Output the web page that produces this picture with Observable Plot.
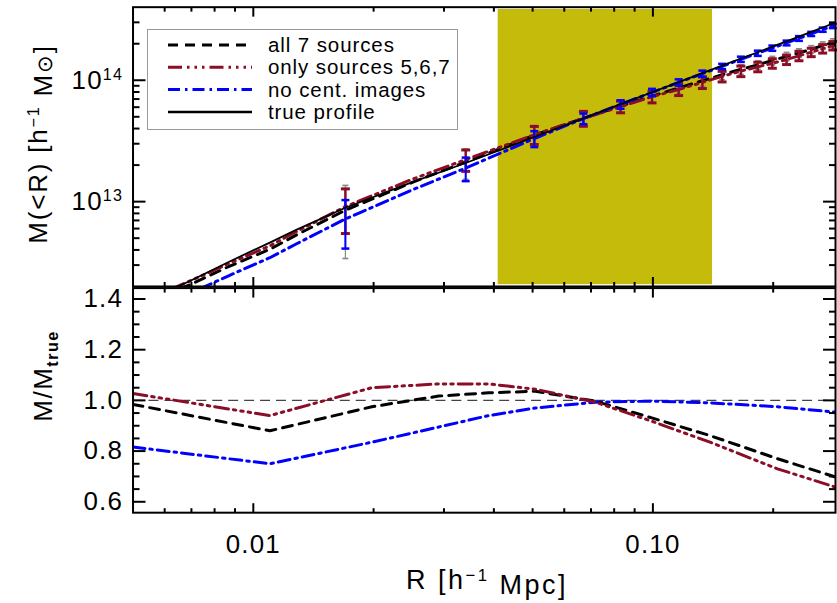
<!DOCTYPE html>
<html><head><meta charset="utf-8">
<script src="https://cdn.jsdelivr.net/npm/d3@7"></script>
<script src="https://cdn.jsdelivr.net/npm/@observablehq/plot@0.6"></script>
<style>
html,body{margin:0;padding:0;background:#fff;overflow:hidden}
#wrap{position:relative;width:837px;height:603px;overflow:hidden;background:#fff}
#top,#bot{position:absolute;left:0}
#top{top:0}
#bot{top:287px}
#ov{position:absolute;left:0;top:0}
</style></head><body>
<div id="wrap"><div id="top"></div><div id="bot"></div>
<svg id="ov" width="837" height="603"></svg></div>
<script>
// ---------- data ----------
const profileR = [0.005, 0.0069, 0.0087, 0.011, 0.0128, 0.017, 0.025, 0.034, 0.0505, 0.067, 0.083, 0.0995, 0.116, 0.133, 0.149, 0.166, 0.183, 0.199, 0.216, 0.232, 0.249, 0.266, 0.282, 0.30];
const massTrue   = [1.35e12, 2.2e12, 3.2e12, 4.6e12, 5.85e12, 8.9e12, 1.45e13, 2.08e13, 3.41e13, 4.86e13, 6.35e13, 7.96e13, 9.65e13, 1.144e14, 1.32e14, 1.51e14, 1.70e14, 1.89e14, 2.09e14, 2.29e14, 2.50e14, 2.72e14, 2.93e14, 3.15e14];
const massAll7   = [1.32e12, 2.05e12, 2.93e12, 4.05e12, 5.3e12, 8.5e12, 1.44e13, 2.12e13, 3.53e13, 4.86e13, 6.13e13, 7.4e13, 8.64e13, 9.9e13, 1.11e14, 1.23e14, 1.34e14, 1.455e14, 1.57e14, 1.68e14, 1.80e14, 1.93e14, 2.05e14, 2.17e14];
const massSrc567 = [1.39e12, 2.2e12, 3.1e12, 4.32e12, 5.65e12, 9.1e12, 1.53e13, 2.22e13, 3.56e13, 4.86e13, 6.06e13, 7.31e13, 8.4e13, 9.6e13, 1.076e14, 1.19e14, 1.29e14, 1.38e14, 1.48e14, 1.59e14, 1.70e14, 1.82e14, 1.93e14, 2.05e14];
const massNoCent = [1.1e12, 1.74e12, 2.46e12, 3.45e12, 4.48e12, 7.2e12, 1.25e13, 1.89e13, 3.31e13, 4.83e13, 6.33e13, 7.94e13, 9.6e13, 1.133e14, 1.30e14, 1.49e14, 1.67e14, 1.84e14, 2.03e14, 2.21e14, 2.41e14, 2.61e14, 2.80e14, 2.99e14];
// relative 1-sigma errors (null = no error bar)
const errAll7   = [null,null,null,null,null,0.60,null,0.28,0.20,0.15,0.12,0.11,0.10,0.10,0.09,0.09,0.08,0.08,0.08,0.08,0.07,0.07,0.07,null];
const errSrc567 = [null,null,null,null,null,0.40,null,0.20,0.17,0.14,0.11,0.11,0.11,0.11,0.10,0.10,0.09,0.09,0.09,0.09,0.08,0.08,0.08,null];
const errNoCent = [null,null,null,null,null,0.43,null,0.22,0.15,0.10,0.08,0.07,0.06,0.06,0.05,0.05,0.05,0.05,0.045,0.045,0.04,0.04,0.04,null];

const ratioR      = [0.005, 0.011, 0.0198, 0.0291, 0.0388, 0.0508, 0.0717, 0.0989, 0.1396, 0.205, 0.29];
const ratioAll7   = [0.984, 0.88, 0.975, 1.017, 1.03, 1.036, 0.997, 0.932, 0.86, 0.77, 0.695];
const ratioSrc567 = [1.027, 0.94, 1.05, 1.065, 1.065, 1.044, 0.993, 0.919, 0.834, 0.73, 0.655];
const ratioNoCent = [0.816, 0.75, 0.835, 0.895, 0.94, 0.97, 0.993, 0.997, 0.99, 0.975, 0.953];

const bandR = [0.041, 0.141];
const bandM = [2.07e12, 3.83e14];

const xMajor = [0.01, 0.1];
const xMinor = [0.006, 0.007, 0.008, 0.009, 0.02, 0.03, 0.04, 0.05, 0.06, 0.07, 0.08, 0.09, 0.2];
const yTopMajor = [1e13, 1e14];
const yTopMinor = [3e12, 4e12, 5e12, 6e12, 7e12, 8e12, 9e12, 2e13, 3e13, 4e13, 5e13, 6e13, 7e13, 8e13, 9e13, 2e14, 3e14];
const yBotMajor = [0.6, 0.8, 1.0, 1.2, 1.4];
const yBotMinor = [0.65, 0.7, 0.75, 0.85, 0.9, 0.95, 1.05, 1.1, 1.15, 1.25, 1.3, 1.35];

const seriesNames = ["all 7 sources", "only sources 5,6,7", "no cent. images", "true profile"];
const seriesColors = ["#000000", "#8b0d26", "#0000ff", "#000000"];
const seriesDash = ["10,7", "14,5,2.5,5,2.5,5,2.5,5", "12,5,2.5,5", null];
const seriesWidth = [3, 3, 3, 1.8];

// ---------- helpers ----------
const FONT = "'Liberation Sans', Arial, sans-serif";
const W = 840, ML = 133, MR = 2;
const xDomain = [0.005, 0.2864];
function rows(xs, ys, errs) {
  return xs.map((x, i) => ({x, y: ys[i], e: errs ? errs[i] : null}));
}
const capSymbol = {draw(ctx, size) { const h = Math.sqrt(size / Math.PI); ctx.moveTo(-h, 0); ctx.lineTo(h, 0); }};
function errMarks(data, color, width, cap) {
  const d = data.filter(r => r.e != null).map(r => ({x: r.x, lo: r.y * (1 - r.e), hi: r.y * (1 + r.e)}));
  const ms = [Plot.ruleX(d, {x: "x", y1: "lo", y2: "hi", stroke: color, strokeWidth: width})];
  if (cap) {
    ms.push(Plot.dot(d, {x: "x", y: "lo", symbol: capSymbol, r: cap, stroke: color, strokeWidth: width + 0.5, fill: "none"}));
    ms.push(Plot.dot(d, {x: "x", y: "hi", symbol: capSymbol, r: cap, stroke: color, strokeWidth: width + 0.5, fill: "none"}));
  }
  return ms;
}
function xAxes(labels) {
  const fmt = d3.format(".2f");
  return [
    Plot.axisX(xMajor, {anchor: "bottom", tickSize: -9, tickPadding: 31, strokeWidth: 2, label: null, tickFormat: labels ? fmt : () => ""}),
    Plot.axisX(xMinor, {anchor: "bottom", tickSize: -4, strokeWidth: 2, label: null, tickFormat: () => ""}),
    Plot.axisX(xMajor, {anchor: "top", tickSize: -9, strokeWidth: 2, label: null, tickFormat: () => ""}),
    Plot.axisX(xMinor, {anchor: "top", tickSize: -4, strokeWidth: 2, label: null, tickFormat: () => ""})
  ];
}
function yAxes(major, minor, fmt) {
  return [
    Plot.axisY(major, {anchor: "left", tickSize: -13, tickPadding: 23, strokeWidth: 2, label: null, tickFormat: fmt}),
    Plot.axisY(minor, {anchor: "left", tickSize: -7, strokeWidth: 2, label: null, tickFormat: () => ""}),
    Plot.axisY(major, {anchor: "right", tickSize: -13, strokeWidth: 2, label: null, tickFormat: () => ""}),
    Plot.axisY(minor, {anchor: "right", tickSize: -7, strokeWidth: 2, label: null, tickFormat: () => ""})
  ];
}
const plotStyle = {fontFamily: FONT, fontSize: "26px", letterSpacing: "1.2px", background: "none", color: "black", overflow: "visible"};

// ---------- top panel ----------
const dTrue = rows(profileR, massTrue);
const dAll7 = rows(profileR, massAll7, errAll7);
const dSrc = rows(profileR, massSrc567, errSrc567);
const dNo = rows(profileR, massNoCent, errNoCent);

const topPlot = Plot.plot({
  width: W, height: 288,
  marginLeft: ML, marginRight: MR, marginTop: 6.7, marginBottom: 1,
  style: plotStyle,
  x: {type: "log", domain: xDomain},
  y: {type: "log", domain: [2e12, 4e14]},
  marks: [
    Plot.rect([{x1: bandR[0], x2: bandR[1], y1: bandM[0], y2: bandM[1]}], {x1: "x1", x2: "x2", y1: "y1", y2: "y2", fill: "#c4bb0b"}),
    ...errMarks(dAll7, "#8a8a8a", 1.2, 3),
    Plot.line(dAll7, {x: "x", y: "y", stroke: seriesColors[0], strokeWidth: seriesWidth[0], strokeDasharray: seriesDash[0], clip: true}),
    Plot.line(dSrc, {x: "x", y: "y", stroke: seriesColors[1], strokeWidth: seriesWidth[1], strokeDasharray: seriesDash[1], clip: true}),
    ...errMarks(dSrc, seriesColors[1], 2.5, 4.5),
    Plot.line(dNo, {x: "x", y: "y", stroke: seriesColors[2], strokeWidth: seriesWidth[2], strokeDasharray: seriesDash[2], clip: true}),
    ...errMarks(dNo, seriesColors[2], 2, 4),
    Plot.line(dTrue, {x: "x", y: "y", stroke: seriesColors[3], strokeWidth: seriesWidth[3], clip: true}),
    Plot.frame({stroke: "black", strokeWidth: 2}),
    ...xAxes(false),
    ...yAxes(yTopMajor, yTopMinor, d => "10")
  ]
});
document.getElementById("top").appendChild(topPlot);
// superscript exponents for the 10^n labels
d3.select(topPlot).selectAll("text").filter(function() { return this.textContent === "10"; }).each(function(_, i) {
  const e = Math.round(Math.log10(yTopMajor[i]));
  d3.select(this).append("tspan").attr("dy", "-0.55em").attr("font-size", "0.62em").text(e);
});

// ---------- bottom panel ----------
const botPlot = Plot.plot({
  width: W, height: 316,
  marginLeft: ML, marginRight: MR, marginTop: 0.6, marginBottom: 90,
  style: plotStyle,
  x: {type: "log", domain: xDomain},
  y: {domain: [0.557, 1.443]},
  marks: [
    Plot.ruleY([1], {stroke: "#444", strokeWidth: 1.3, strokeDasharray: "10,6"}),
    Plot.line(rows(ratioR, ratioNoCent), {x: "x", y: "y", stroke: seriesColors[2], strokeWidth: 3, strokeDasharray: seriesDash[2], clip: true}),
    Plot.line(rows(ratioR, ratioAll7), {x: "x", y: "y", stroke: seriesColors[0], strokeWidth: 3, strokeDasharray: seriesDash[0], clip: true}),
    Plot.line(rows(ratioR, ratioSrc567), {x: "x", y: "y", stroke: seriesColors[1], strokeWidth: 3, strokeDasharray: seriesDash[1], clip: true}),
    Plot.frame({stroke: "black", strokeWidth: 2}),
    ...xAxes(true),
    ...yAxes(yBotMajor, yBotMinor, d3.format(".1f"))
  ]
});
document.getElementById("bot").appendChild(botPlot);

// ---------- titles and legend (overlay) ----------
const ov = d3.select("#ov").attr("font-family", FONT);
// y title top
const t1 = ov.append("text").attr("transform", "translate(47,144) rotate(-90)").attr("text-anchor", "middle").attr("font-size", 26).attr("letter-spacing", 1.8);
t1.append("tspan").text("M(<R) [h");
t1.append("tspan").attr("dy", "-0.5em").attr("font-size", "0.62em").text("−1");
t1.append("tspan").attr("dy", "0.5em").text(" M");
t1.append("tspan").attr("font-size", "0.8em").text("⊙");
t1.append("tspan").text("]");
// y title bottom
const t2 = ov.append("text").attr("transform", "translate(52,376) rotate(-90)").attr("text-anchor", "middle").attr("font-size", 26).attr("letter-spacing", 1.5);
t2.append("tspan").text("M/M");
t2.append("tspan").attr("dy", "0.35em").attr("font-size", "0.62em").attr("font-weight", "bold").text("true");
// x title
const t3 = ov.append("text").attr("x", 487).attr("y", 589).attr("text-anchor", "middle").attr("font-size", 27).attr("letter-spacing", 2.5);
t3.append("tspan").text("R [h");
t3.append("tspan").attr("dy", "-0.5em").attr("font-size", "0.62em").text("−1");
t3.append("tspan").attr("dy", "0.5em").text(" Mpc]");

// legend
const lg = ov.append("g");
lg.append("rect").attr("x", 147.5).attr("y", 29.5).attr("width", 310).attr("height", 100).attr("fill", "white").attr("stroke", "#999").attr("stroke-width", 1);
seriesNames.forEach((name, i) => {
  const y = 45 + i * 22.3;
  lg.append("line").attr("x1", 168).attr("x2", 252).attr("y1", y).attr("y2", y)
    .attr("stroke", seriesColors[i]).attr("stroke-width", i === 3 ? 2.5 : 3)
    .attr("stroke-dasharray", seriesDash[i]);
  lg.append("text").attr("x", 268).attr("y", y).attr("dy", "0.35em").attr("font-size", 20.5).attr("letter-spacing", 0.9).text(name);
});
</script>
</body></html>
